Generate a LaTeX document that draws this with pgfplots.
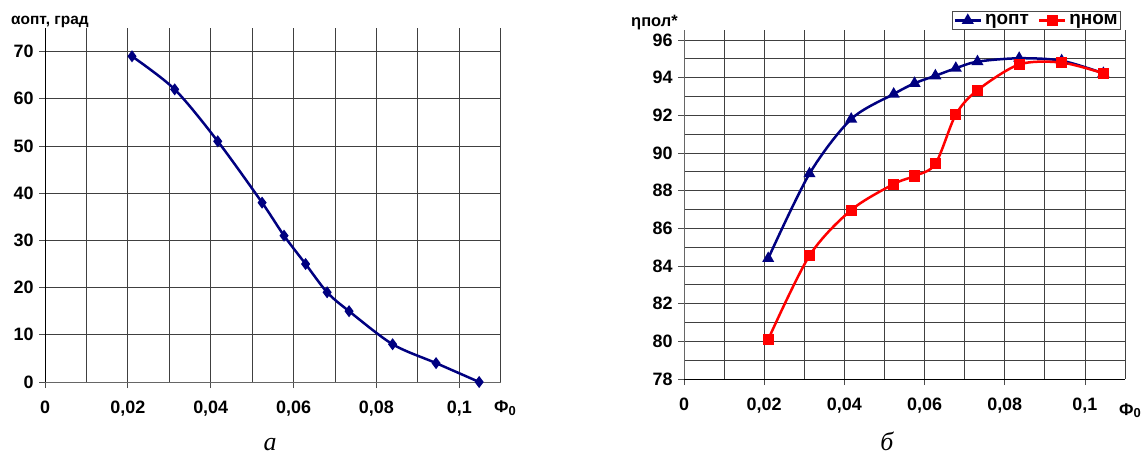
\documentclass[border=0pt]{standalone}
\usepackage{fontspec}
\setmainfont{Liberation Sans}
\newfontfamily\serifit{Liberation Serif}
\usepackage{pgfplots}
\pgfplotsset{compat=1.18}
\definecolor{navy}{RGB}{0,0,128}
\definecolor{myred}{RGB}{255,0,0}
\newcommand{\PhiZero}{\bfseries\fontsize{17}{17}\selectfont Ф\raisebox{-2.5bp}{\fontsize{13}{13}\selectfont 0}}
\begin{document}
\begin{tikzpicture}
\useasboundingbox (0bp,0bp) rectangle (1147bp,454bp);
\pgfplotsset{
  common/.style={
    scale only axis,
    anchor=south west,
    xmin=0, xmax=0.11,
    axis x line=bottom, axis y line=left,
    axis line style={-, line width=0.8bp},
    /pgf/number format/assume math mode=true,
    xtick={0,0.02,0.04,0.06,0.08,0.1},
    xticklabels={0,{0,02},{0,04},{0,06},{0,08},{0,1}},
    minor xtick={0.01,0.03,0.05,0.07,0.09,0.11},
    tick align=outside,
    major tick length=6bp, minor tick length=0bp,
    tick style={black!70, line width=0.8bp},
    grid=both,
    major grid style={black!75, line width=0.8bp},
    minor grid style={black!75, line width=0.8bp},
    ticklabel style={font=\bfseries\fontsize{18}{18}\selectfont},
    xticklabel style={yshift=-9bp},
    yticklabel style={xshift=-2bp},
    clip=false,
  }
}
% ---------- left chart ----------
\begin{axis}[common, at={(45bp,72bp)}, width=455.7bp, height=354bp,
  ymin=0, ymax=75, ytick={0,10,...,70},
  y axis line style={black}, x axis line style={black!60}]
\addplot[navy, line width=2.5bp, smooth, mark=diamond*, mark size=4bp,
  mark options={solid}] coordinates {
  (0.0210,69) (0.0313,62) (0.0417,51) (0.0524,38) (0.0577,31)
  (0.0629,25) (0.0681,19) (0.0734,15) (0.0839,8) (0.0944,4) (0.1048,0)};
\end{axis}
% ---------- right chart ----------
\begin{axis}[common, at={(684bp,75bp)}, width=441bp, height=349bp,
  ymin=78, ymax=96.53, ytick={78,80,...,96}, minor ytick={79,81,...,95},
  y axis line style={black!60}, x axis line style={black},
  legend columns=2,
  legend style={at={(0.991,1.054)}, anchor=north east, draw=black!70,
    line width=0.8bp, fill=white,
    font=\bfseries\fontsize{19}{19}\selectfont, inner sep=1bp,
    /tikz/every odd column/.append style={column sep=1bp},
    /tikz/every even column/.append style={column sep=7bp}},
  legend image code/.code={
    \draw[mark repeat=2,mark phase=2] plot coordinates {(0bp,0bp) (13bp,0bp) (26bp,0bp)};}
  ]
\addplot[navy, line width=2.5bp, smooth, mark=triangle*, mark size=4.5bp,
  mark options={solid}] coordinates {
  (0.0210,84.4) (0.0313,88.9) (0.0417,91.8) (0.0523,93.13) (0.0575,93.7)
  (0.0627,94.1) (0.0678,94.5) (0.0732,94.85) (0.0836,95.03) (0.0942,94.9) (0.1046,94.23)};
\addlegendentry{ηопт}
\addplot[myred, line width=2.5bp, smooth, mark=square*, mark size=4.3bp,
  mark options={solid}] coordinates {
  (0.0210,80.1) (0.0313,84.55) (0.0417,86.97) (0.0523,88.35) (0.0575,88.78)
  (0.0627,89.42) (0.0678,92.04) (0.0732,93.33) (0.0836,94.7) (0.0942,94.8) (0.1046,94.23)};
\addlegendentry{ηном}
\end{axis}
% ---------- labels ----------
\node[anchor=base west, inner sep=0] at (11bp,429bp) {\bfseries\fontsize{15.5}{15.5}\selectfont αопт, град};
\node[anchor=base west, inner sep=0] at (631bp,427bp) {\bfseries\fontsize{16.5}{16.5}\selectfont ηпол*};
\node[anchor=base west, inner sep=0] at (494bp,41bp) {\PhiZero};
\node[anchor=base west, inner sep=0] at (1119bp,39bp) {\PhiZero};
\node[anchor=base, inner sep=0] at (270bp,4bp) {\serifit\itshape\fontsize{26}{26}\selectfont а};
\node[anchor=base, inner sep=0] at (887bp,4bp) {\serifit\itshape\fontsize{26}{26}\selectfont б};
\end{tikzpicture}
\end{document}
